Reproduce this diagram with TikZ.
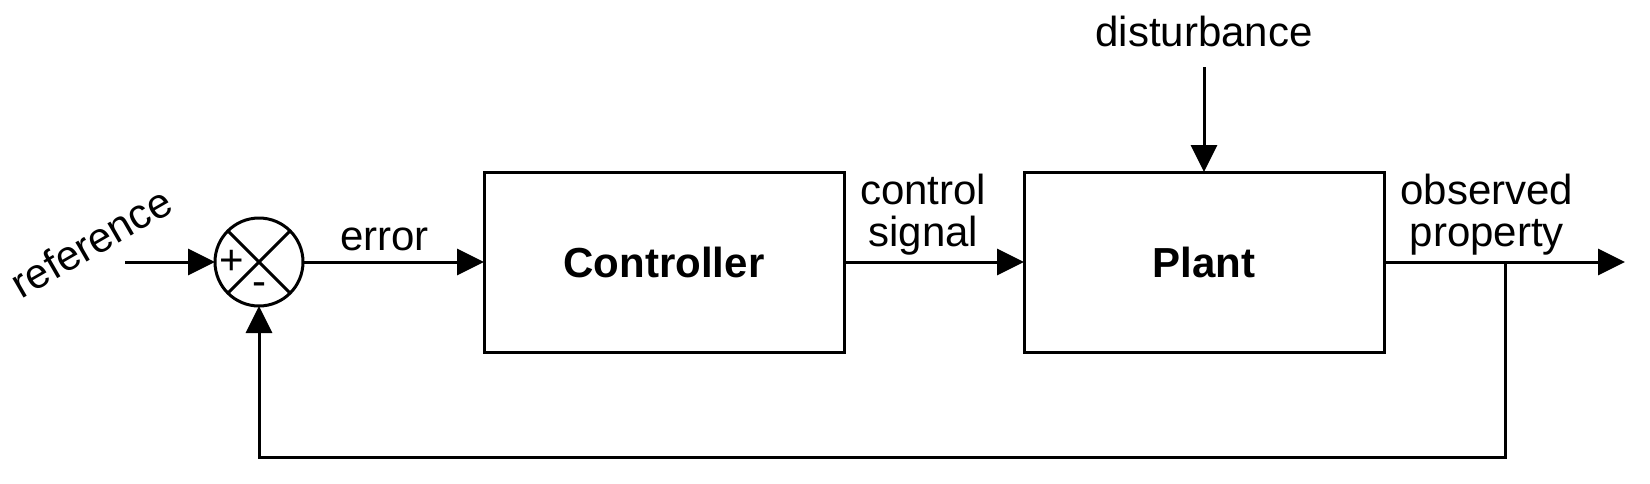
\documentclass[tikz,border=0pt]{standalone}
\usepackage{fontspec}
\setmainfont{Liberation Sans}
\usepackage{tikz}
\usetikzlibrary{positioning,arrows.meta}

\tikzset{
  blk/.style={draw, line width=1.5pt, outer sep=0pt, minimum width=180pt, minimum height=90pt, font=\fontsize{21}{21}\selectfont\bfseries},
  sumnode/.style={draw, circle, line width=1.5pt, outer sep=0pt, inner sep=0pt, minimum size=44pt},
  sig/.style={line width=1.5pt, -{Triangle[length=13.5pt,width=13pt]}},
  wire/.style={line width=1.5pt},
}

\begin{document}
\begin{tikzpicture}[x=0.5pt, y=-0.5pt, every node/.append style={font=\fontsize{21}{21}\selectfont}]
\useasboundingbox (0,0) rectangle (1650,483);
    \node (sum) [sumnode] at (259,262) {};
    \node (ctrl) [blk, right=90.5pt of sum] {Controller};
    \node (plant) [blk, right=90pt of ctrl] {Plant};
    \coordinate [left=45pt of sum] (refin);
    \coordinate [right=60.5pt of plant] (tap);
    \coordinate [right=120.5pt of plant] (out);
    \coordinate [below=75.5pt of sum] (fb);
    \coordinate [above=52.5pt of plant] (dtop);
    \node (dist) [above=10pt of dtop, inner sep=0pt] {disturbance};
    \node (ref) [rotate=30] at ([shift={(-34,-20)}]refin) {reference};
    \node (plus) at ([xshift=-13.5pt]sum.center) {+};
    \node (minus) at ([yshift=-13.5pt]sum.center) {-};
    \draw[wire] (sum.north west) -- (sum.south east);
    \draw[wire] (sum.north east) -- (sum.south west);
    \draw[sig] (refin) -- (sum);
    \draw[sig] (sum) -- node[above, pos=0.45, inner sep=5pt] (err) {error} (ctrl);
    \draw[sig] (ctrl) -- node[above, pos=0.44, inner sep=2.5pt, align=center] (u) {control\\signal} (plant);
    \draw[sig] (plant) -- node[above, pos=0.427, inner sep=2.5pt, align=center] (y) {observed\\property} (out);
    \draw[sig] (dtop) -- (plant);
    \draw[sig] (tap) |- (fb) -- (sum);
\end{tikzpicture}
\end{document}
